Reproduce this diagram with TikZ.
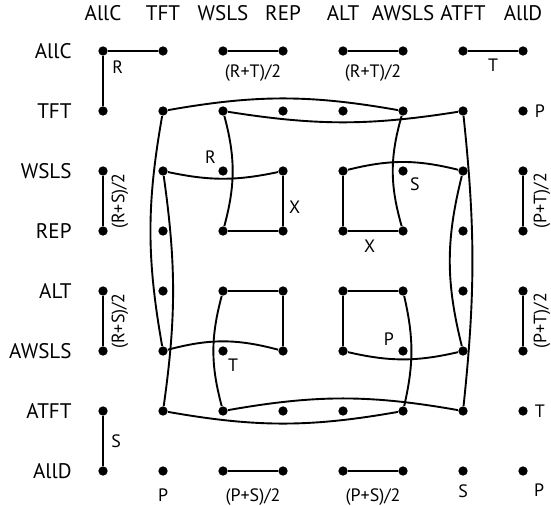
\documentclass[tikz,border=0pt]{standalone}
\usepackage{fontspec}
\setmainfont{PT Sans}
\usetikzlibrary{positioning}

\begin{document}
\begin{tikzpicture}[
  font=\fontsize{10}{12}\selectfont,
  dot/.style={circle, fill=black, inner sep=0pt, minimum size=0.155cm},
  link/.style={line width=0.9pt},
  lbl/.style={inner sep=1pt, font=\fontsize{8.5}{10}\selectfont},
  vlbl/.style={lbl, rotate=90, anchor=north, inner sep=3.6pt}
]
\useasboundingbox (0,0) rectangle (9.183,-8.417);
% strategy names
\foreach \i/\name in {0/AllC,1/TFT,2/WSLS,3/REP,4/ALT,5/AWSLS,6/ATFT,7/AllD} {
  \node[anchor=base] (col\i) at (1.717+\i,-0.35) {\name};
  \node[anchor=east, inner sep=0pt] (row\i) at (1.2,-0.85-\i) {\name};
}
% payoff grid
\foreach \i in {0,...,7}
  \foreach \j in {0,...,7}
    \node[dot] (s\i\j) at (1.717+\i,-0.85-\j) {};
% outer row and column
\draw[link] (s10) -- (s00) -- node[lbl, pos=0.23, right=3pt] (lr) {R} (s01);
\draw[link] (s20) -- node[lbl, below=5pt] (lrt1) {(R+T)/2} (s30);
\draw[link] (s40) -- node[lbl, below=5pt] (lrt2) {(R+T)/2} (s50);
\draw[link] (s60) -- node[lbl, below=2.5pt] (lt) {T} (s70);
\draw[link] (s02) -- node[vlbl] (lrs1) {(R+S)/2} (s03);
\draw[link] (s04) -- node[vlbl] (lrs2) {(R+S)/2} (s05);
\draw[link] (s06) -- node[lbl, right=2.5pt] (ls) {S} (s07);
\draw[link] (s72) -- node[vlbl, inner sep=4.6pt] (lpt1) {(P+T)/2} (s73);
\draw[link] (s74) -- node[vlbl, inner sep=4.6pt] (lpt2) {(P+T)/2} (s75);
\draw[link] (s27) -- node[lbl, below=7pt] (lps1) {(P+S)/2} (s37);
\draw[link] (s47) -- node[lbl, below=7pt] (lps2) {(P+S)/2} (s57);
\node[lbl, right=2pt of s71] (lp1) {P};
\node[lbl, right=2pt of s76] (lt2) {T};
\node[lbl, below right=3pt and 2.3pt of s77] (lp2) {P};
\node[lbl, below=2.8pt of s67] (ls2) {S};
\node[lbl, below=4.8pt of s17] (lp3) {P};
% outer ring
\draw[link] (s11) to[bend left=10] (s51);
\draw[link] (s21) to[bend right=9] (s61);
\draw[link] (s11) to[bend right=10] (s15);
\draw[link] (s12) to[bend left=8] (s16);
\draw[link] (s61) to[bend left=6] (s66);
\draw[link] (s62) to[bend right=14] (s65);
\draw[link] (s16) to[bend right=10] (s56);
\draw[link] (s26) to[bend left=10] (s66);
% inner squares
\draw[link] (s21) to[bend left=15] (s23);
\draw[link] (s12) to[bend right=12] (s32);
\draw[link] (s23) -- (s33) -- node[lbl, pos=0.37, right=1.4pt] (lx1) {X} (s32);
\draw[link] (s51) to[bend right=16] (s53);
\draw[link] (s42) to[bend left=14] (s62);
\draw[link] (s42) -- (s43) -- node[lbl, pos=0.43, below=3pt] (lx2) {X} (s53);
\draw[link] (s15) to[bend left=15] (s35);
\draw[link] (s24) to[bend right=15] (s26);
\draw[link] (s24) -- (s34) -- (s35);
\draw[link] (s54) to[bend left=13] (s56);
\draw[link] (s45) to[bend right=13] (s65);
\draw[link] (s45) -- (s44) -- (s54);
\node[lbl, above left=0.5pt and 0.5pt of s22] (lr2) {R};
\node[lbl, below right=1pt and -0.5pt of s25] (lt3) {T};
\node[lbl, below right=0.5pt and 0.5pt of s52] (ls3) {S};
\node[lbl, above left=-0.5pt and 1.4pt of s55] (lp4) {P};
\end{tikzpicture}
\end{document}
